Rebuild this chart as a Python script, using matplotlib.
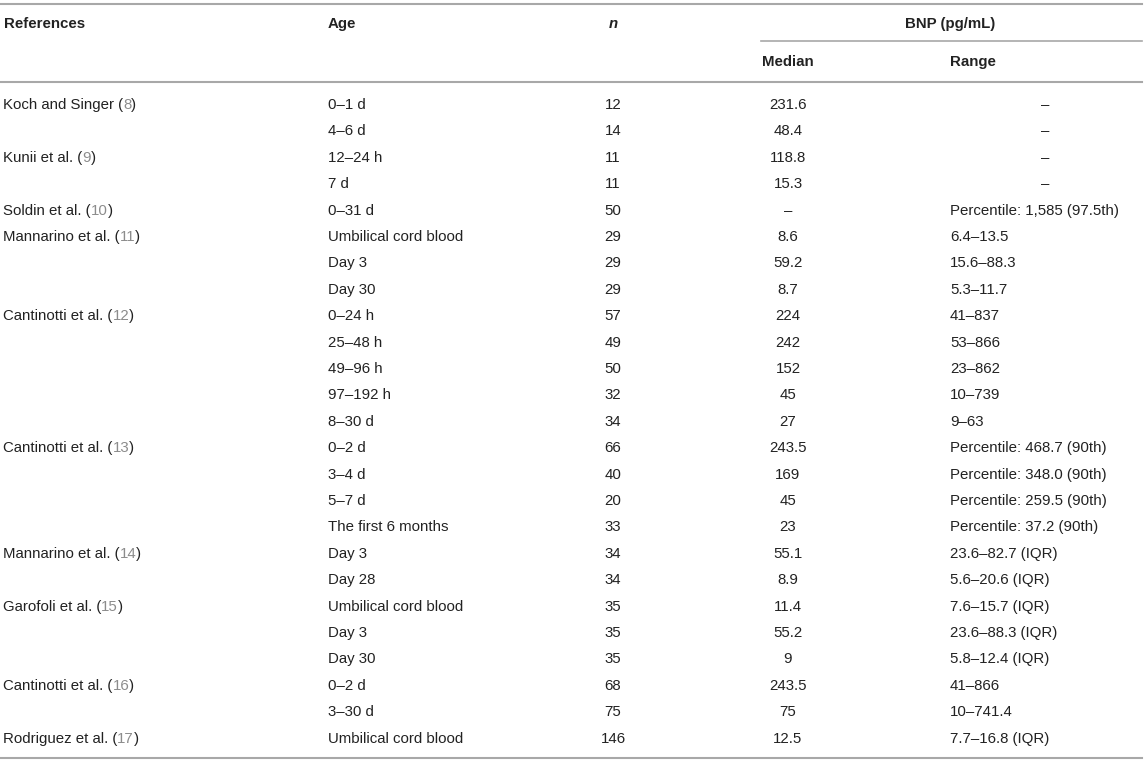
import matplotlib.pyplot as plt

plt.rcParams['font.family'] = ['Liberation Sans', 'DejaVu Sans']

# Table content
ref_names = ['Koch and Singer', 'Kunii et al.', 'Soldin et al.', 'Mannarino et al.',
             'Cantinotti et al.', 'Cantinotti et al.', 'Mannarino et al.', 'Garofoli et al.',
             'Cantinotti et al.', 'Rodriguez et al.']
ref_nums = ['8', '9', '10', '11', '12', '13', '14', '15', '16', '17']
ref_rows = [0, 2, 4, 5, 8, 13, 17, 19, 22, 24]

ages = ['0–1 d', '4–6 d', '12–24 h', '7 d', '0–31 d', 'Umbilical cord blood', 'Day 3', 'Day 30',
        '0–24 h', '25–48 h', '49–96 h', '97–192 h', '8–30 d', '0–2 d', '3–4 d', '5–7 d',
        'The first 6 months', 'Day 3', 'Day 28', 'Umbilical cord blood', 'Day 3', 'Day 30',
        '0–2 d', '3–30 d', 'Umbilical cord blood']
n_vals = ['12', '14', '11', '11', '50', '29', '29', '29', '57', '49', '50', '32', '34',
          '66', '40', '20', '33', '34', '34', '35', '35', '35', '68', '75', '146']
medians = ['231.6', '48.4', '118.8', '15.3', '–', '8.6', '59.2', '8.7', '224', '242', '152',
           '45', '27', '243.5', '169', '45', '23', '55.1', '8.9', '11.4', '55.2', '9',
           '243.5', '75', '12.5']
ranges = ['–', '–', '–', '–', 'Percentile: 1,585 (97.5th)', '6.4–13.5', '15.6–88.3', '5.3–11.7',
          '41–837', '53–866', '23–862', '10–739', '9–63', 'Percentile: 468.7 (90th)',
          'Percentile: 348.0 (90th)', 'Percentile: 259.5 (90th)', 'Percentile: 37.2 (90th)',
          '23.6–82.7 (IQR)', '5.6–20.6 (IQR)', '7.6–15.7 (IQR)', '23.6–88.3 (IQR)',
          '5.8–12.4 (IQR)', '41–866', '10–741.4', '7.7–16.8 (IQR)']

W, H = 1145, 764
fig = plt.figure(figsize=(W / 100, H / 100), dpi=100)
ax = fig.add_axes([0, 0, 1, 1])
ax.set_xlim(0, W)
ax.set_ylim(H, 0)
ax.axis('off')

fs = 10.8
txt = '#222222'
grey_num = '#8c8c8c'
rule = '#a8a8a8'

# rules
ax.plot([0, 1142], [4, 4], color=rule, lw=1.5)
ax.plot([761, 1142], [41, 41], color=rule, lw=1.2)
ax.plot([0, 1142], [82, 82], color=rule, lw=1.5)
ax.plot([0, 1142], [758, 758], color=rule, lw=1.5)

# header
ax.text(4, 24, 'References', fontsize=fs, fontweight='bold', color=txt, va='center')
ax.text(328, 24, 'Age', fontsize=fs, fontweight='bold', color=txt, va='center')
ax.text(613, 24, 'n', fontsize=fs, fontweight='bold', style='italic', color=txt,
        va='center', ha='center')
ax.text(950, 24, 'BNP (pg/mL)', fontsize=fs, fontweight='bold', color=txt,
        va='center', ha='center')
ax.text(788, 62, 'Median', fontsize=fs, fontweight='bold', color=txt, va='center', ha='center')
ax.text(950, 62, 'Range', fontsize=fs, fontweight='bold', color=txt, va='center')

y0, dy = 105, 26.4
fig.canvas.draw()
renderer = fig.canvas.get_renderer()


def after(t):
    # x position (data units) just right of a text object
    bb = t.get_window_extent(renderer=renderer)
    return ax.transData.inverted().transform((bb.x1, 0))[0]


for name, num, r in zip(ref_names, ref_nums, ref_rows):
    y = y0 + dy * r
    t1 = ax.text(3, y, name + ' (', fontsize=fs, color=txt, va='center')
    t2 = ax.text(after(t1), y, num, fontsize=fs, color=grey_num, va='center')
    ax.text(after(t2), y, ')', fontsize=fs, color=txt, va='center')

for i in range(len(ages)):
    y = y0 + dy * i
    ax.text(328, y, ages[i], fontsize=fs, color=txt, va='center')
    ax.text(613, y, n_vals[i], fontsize=fs, color=txt, va='center', ha='center')
    ax.text(788, y, medians[i], fontsize=fs, color=txt, va='center', ha='center')
    if ranges[i] == '–':
        ax.text(1045, y, ranges[i], fontsize=fs, color=txt, va='center', ha='center')
    else:
        ax.text(950, y, ranges[i], fontsize=fs, color=txt, va='center')

fig.savefig('out.png', dpi=100)
